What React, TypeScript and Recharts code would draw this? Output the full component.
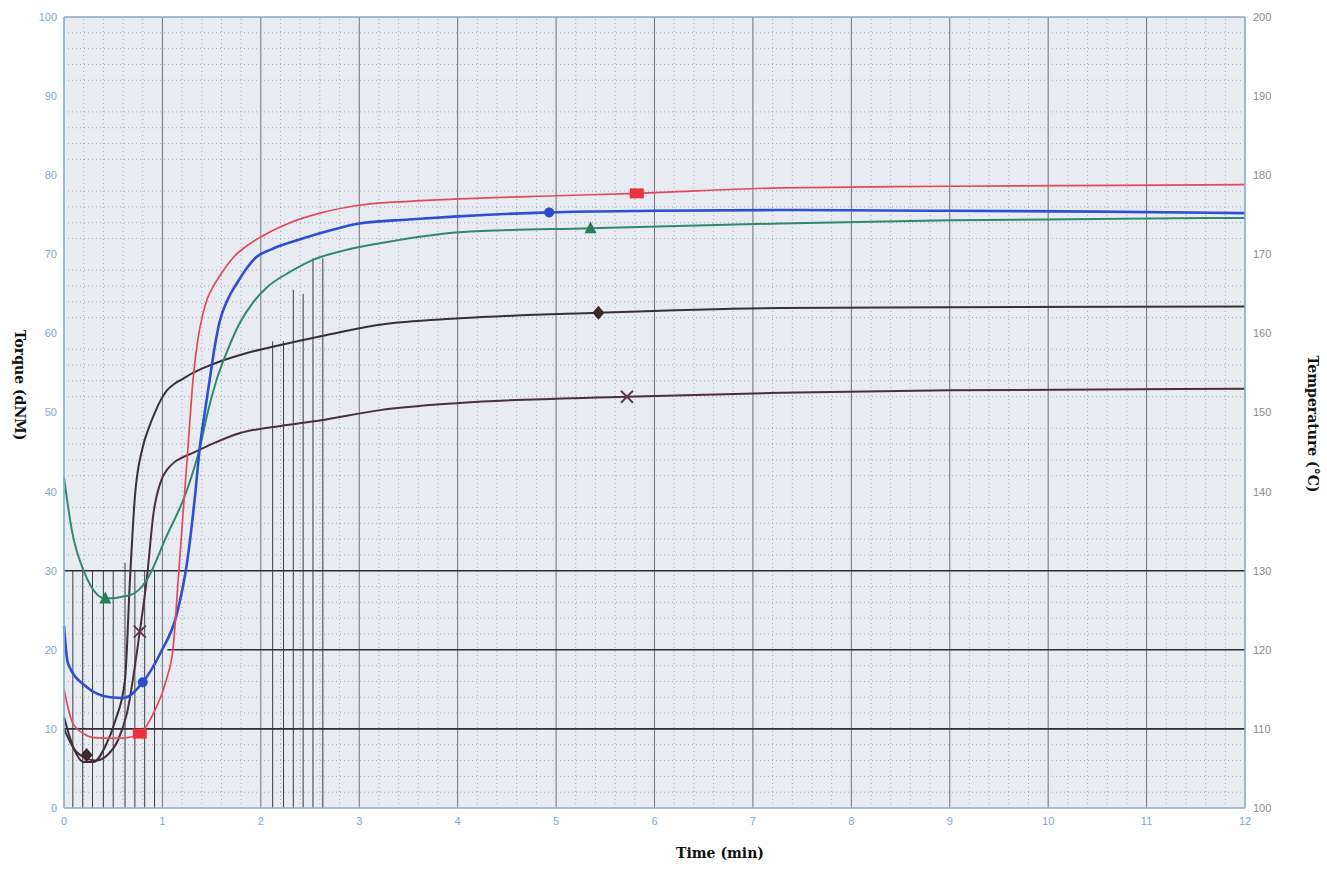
import { ComposedChart, Line, Scatter, XAxis, YAxis, CartesianGrid, ReferenceLine } from 'recharts';

// axis ticks
const timeTicks = [0, 1, 2, 3, 4, 5, 6, 7, 8, 9, 10, 11, 12];
const torqueTicks = [0, 10, 20, 30, 40, 50, 60, 70, 80, 90, 100];
const tempTicks = [100, 110, 120, 130, 140, 150, 160, 170, 180, 190, 200];

// cure curves (time in min, torque in dNm)
const redTime = [0, 0.09, 0.2, 0.3, 0.5, 0.64, 0.77, 0.91, 1.04, 1.11, 1.16, 1.21, 1.26, 1.31, 1.36, 1.41, 1.46, 1.52, 1.6, 1.72, 1.85, 2.0, 2.26, 2.6, 3.0, 3.5, 4.0, 5.0, 5.82, 7.28, 9.0, 12];
const redTorque = [15, 10.7, 9.4, 8.9, 8.8, 8.9, 9.4, 12, 16.2, 20.4, 28.8, 37.3, 45.6, 54, 59.2, 62.4, 64.5, 66, 67.6, 69.6, 71, 72.2, 73.8, 75.2, 76.2, 76.7, 77, 77.4, 77.7, 78.4, 78.6, 78.8];

const blueTime = [0, 0.04, 0.23, 0.47, 0.6, 0.8, 0.98, 1.15, 1.25, 1.33, 1.38, 1.43, 1.48, 1.53, 1.58, 1.66, 1.76, 1.86, 1.95, 2.1, 2.4, 2.7, 3.0, 3.5, 4.0, 4.93, 6.0, 7.28, 9.0, 10.5, 12];
const blueTorque = [23, 18.3, 15.3, 14, 13.9, 15.9, 19.6, 24.7, 31, 39.3, 45.6, 50, 54.1, 58.2, 61.4, 64.2, 66.4, 68.3, 69.6, 70.6, 71.9, 73, 73.9, 74.4, 74.8, 75.3, 75.5, 75.6, 75.5, 75.4, 75.2];

const greenTime = [0, 0.08, 0.21, 0.42, 0.67, 0.84, 1.04, 1.25, 1.38, 1.46, 1.55, 1.65, 1.79, 1.92, 2.06, 2.3, 2.53, 2.85, 3.21, 3.6, 4.02, 5.35, 7.28, 9.0, 12];
const greenTorque = [41.8, 35.1, 29.7, 26.5, 26.9, 28.8, 34.3, 40.2, 45.5, 50, 54.1, 57.5, 61.4, 63.9, 65.8, 67.8, 69.3, 70.5, 71.4, 72.2, 72.8, 73.3, 73.9, 74.3, 74.6];

const diamondTime = [0, 0.1, 0.2, 0.3, 0.42, 0.52, 0.62, 0.67, 0.72, 0.8, 0.86, 0.92, 0.98, 1.04, 1.12, 1.2, 1.31, 1.45, 1.62, 1.85, 2.12, 2.67, 3.21, 4.02, 5.43, 7.28, 9.0, 12];
const diamondTorque = [11.5, 7.5, 5.8, 5.8, 7.8, 11, 16.2, 28.8, 39.3, 45.6, 48, 49.9, 51.5, 52.7, 53.6, 54.2, 55, 55.8, 56.6, 57.5, 58.3, 59.8, 61.1, 61.9, 62.6, 63.2, 63.3, 63.4];

const crossTime = [0, 0.1, 0.22, 0.32, 0.45, 0.55, 0.64, 0.77, 0.84, 0.91, 0.99, 1.05, 1.11, 1.2, 1.31, 1.5, 1.79, 2.2, 2.6, 3.21, 4.02, 5.72, 7.28, 9.0, 12];
const crossTorque = [10, 7.5, 6.3, 6, 6.8, 8.6, 12, 22.3, 28.8, 37.3, 41.5, 42.8, 43.6, 44.3, 44.9, 46, 47.4, 48.3, 49, 50.3, 51.2, 52, 52.5, 52.8, 53];

// symbol positions on each curve
const redMarkTime = [0.77, 5.82];
const redMarkTorque = [9.4, 77.7];
const blueMarkTime = [0.8, 4.93];
const blueMarkTorque = [15.9, 75.3];
const greenMarkTime = [0.42, 5.35];
const greenMarkTorque = [26.5, 73.3];
const diamondMarkTime = [0.23, 5.43];
const diamondMarkTorque = [6.7, 62.6];
const crossMarkTime = [0.77, 5.72];
const crossMarkTorque = [22.3, 52];

// temperature traces (°C)
const tempLevel = [130, 120, 110];
const tempStart = [0, 1.05, 0];
const tempEnd = [12, 12, 12];

// recorder pen marks (time, top of stroke in dNm)
const penTime = [0.09, 0.19, 0.29, 0.4, 0.5, 0.62, 0.72, 0.82, 0.92, 2.12, 2.23, 2.33, 2.43, 2.53, 2.63];
const penTop = [30, 30, 30, 30, 30, 31, 30, 30, 30, 59, 59, 65.5, 65, 69.5, 69.5];

const pts = (ts: number[], vs: number[]) => ts.map((t, i) => ({ t, v: vs[i] }));

const minorX = Array.from({ length: 61 }, (_, i) => +(i * 0.2).toFixed(1)).filter(v => Math.abs(v - Math.round(v)) > 0.01);
const minorY = Array.from({ length: 51 }, (_, i) => i * 2).filter(v => v % 10 !== 0);

const tickBlue = { fill: '#7aa9d6', fontSize: 11, fontFamily: '"Liberation Sans", Arial, sans-serif' };
const tickGray = { fill: '#8a8a8a', fontSize: 11, fontFamily: '"Liberation Sans", Arial, sans-serif' };
const titleStyle = {
  position: 'absolute' as const,
  fontFamily: '"DejaVu Serif", serif',
  fontWeight: 700,
  fontSize: 14,
  color: '#111',
  whiteSpace: 'nowrap' as const,
};

const Square = (p: any) => <rect x={p.cx - 7} y={p.cy - 5} width={14} height={10} fill="#e8333f" />;
const Dot = (p: any) => <circle cx={p.cx} cy={p.cy} r={5} fill="#2a4bd0" />;
const Tri = (p: any) => (
  <polygon points={`${p.cx},${p.cy - 7} ${p.cx - 6},${p.cy + 5} ${p.cx + 6},${p.cy + 5}`} fill="#2b7d5c" />
);
const Diamond = (p: any) => (
  <polygon points={`${p.cx},${p.cy - 7} ${p.cx + 6},${p.cy} ${p.cx},${p.cy + 7} ${p.cx - 6},${p.cy}`} fill="#3a2a2c" />
);
const Cross = (p: any) => (
  <g stroke="#5a3a4a" strokeWidth={2}>
    <line x1={p.cx - 6} y1={p.cy - 6} x2={p.cx + 6} y2={p.cy + 6} />
    <line x1={p.cx - 6} y1={p.cy + 6} x2={p.cx + 6} y2={p.cy - 6} />
  </g>
);

export default function App() {
  return (
    <div style={{ position: 'absolute', left: 0, top: 0, width: 1327, height: 870, background: '#fff' }}>
      <ComposedChart width={1327} height={870} margin={{ top: 17, right: 32, bottom: 38, left: 24 }}>
        <CartesianGrid fill="#e8ebf1" stroke="#707078" strokeWidth={1} />
        {minorX.map(x => (
          <ReferenceLine key={'mx' + x} yAxisId="torque" x={x} stroke="#959aa3" strokeWidth={0.8} strokeDasharray="1 3" />
        ))}
        {minorY.map(y => (
          <ReferenceLine key={'my' + y} yAxisId="torque" y={y} stroke="#959aa3" strokeWidth={0.8} strokeDasharray="1 3" />
        ))}
        {penTime.map((t, i) => (
          <ReferenceLine
            key={'pen' + i}
            yAxisId="torque"
            segment={[{ x: t, y: 0 }, { x: t, y: penTop[i] }]}
            stroke="#3c3c44"
            strokeWidth={1}
          />
        ))}
        <ReferenceLine yAxisId="torque" y={100} stroke="#9cc3e6" strokeWidth={1.2} />
        <XAxis
          dataKey="t"
          type="number"
          domain={[0, 12]}
          ticks={timeTicks}
          tick={tickBlue}
          tickLine={false}
          tickSize={0}
          tickMargin={9}
          height={24}
          axisLine={{ stroke: '#a8c8e6' }}
          allowDuplicatedCategory={false}
        />
        <YAxis
          yAxisId="torque"
          dataKey="v"
          type="number"
          domain={[0, 100]}
          ticks={torqueTicks}
          tick={tickBlue}
          tickLine={false}
          tickSize={0}
          tickMargin={7}
          width={40}
          axisLine={{ stroke: '#8fbbe3', strokeWidth: 1.5 }}
        />
        <YAxis
          yAxisId="temp"
          orientation="right"
          dataKey="v"
          type="number"
          domain={[100, 200]}
          ticks={tempTicks}
          tick={tickGray}
          tickLine={false}
          tickSize={0}
          tickMargin={8}
          width={50}
          axisLine={{ stroke: '#8fbbe3', strokeWidth: 1.5 }}
        />
        {tempLevel.map((lv, i) => (
          <Line
            key={'temp' + i}
            yAxisId="temp"
            data={[{ t: tempStart[i], v: lv }, { t: tempEnd[i], v: lv }]}
            dataKey="v"
            stroke="#2e2e34"
            strokeWidth={1.6}
            dot={false}
            isAnimationActive={false}
          />
        ))}
        <Line yAxisId="torque" data={pts(crossTime, crossTorque)} dataKey="v" type="monotone" stroke="#4a2f3e" strokeWidth={2} dot={false} isAnimationActive={false} />
        <Line yAxisId="torque" data={pts(diamondTime, diamondTorque)} dataKey="v" type="monotone" stroke="#3a3034" strokeWidth={2} dot={false} isAnimationActive={false} />
        <Line yAxisId="torque" data={pts(greenTime, greenTorque)} dataKey="v" type="monotone" stroke="#2f8a6a" strokeWidth={2} dot={false} isAnimationActive={false} />
        <Line yAxisId="torque" data={pts(blueTime, blueTorque)} dataKey="v" type="monotone" stroke="#2d4fd4" strokeWidth={2.6} dot={false} isAnimationActive={false} />
        <Line yAxisId="torque" data={pts(redTime, redTorque)} dataKey="v" type="monotone" stroke="#e24a5c" strokeWidth={1.7} dot={false} isAnimationActive={false} />
        <Scatter yAxisId="torque" data={pts(redMarkTime, redMarkTorque)} dataKey="v" shape={Square} isAnimationActive={false} />
        <Scatter yAxisId="torque" data={pts(blueMarkTime, blueMarkTorque)} dataKey="v" shape={Dot} isAnimationActive={false} />
        <Scatter yAxisId="torque" data={pts(greenMarkTime, greenMarkTorque)} dataKey="v" shape={Tri} isAnimationActive={false} />
        <Scatter yAxisId="torque" data={pts(diamondMarkTime, diamondMarkTorque)} dataKey="v" shape={Diamond} isAnimationActive={false} />
        <Scatter yAxisId="torque" data={pts(crossMarkTime, crossMarkTorque)} dataKey="v" shape={Cross} isAnimationActive={false} />
      </ComposedChart>
      <div style={{ ...titleStyle, left: 20, top: 385, transform: 'translate(-50%, -50%) rotate(90deg)' }}>Torque (dNM)</div>
      <div style={{ ...titleStyle, left: 1313, top: 424, transform: 'translate(-50%, -50%) rotate(90deg)' }}>Temperature (°C)</div>
      <div style={{ ...titleStyle, left: 720, top: 853, transform: 'translate(-50%, -50%)' }}>Time (min)</div>
    </div>
  );
}
